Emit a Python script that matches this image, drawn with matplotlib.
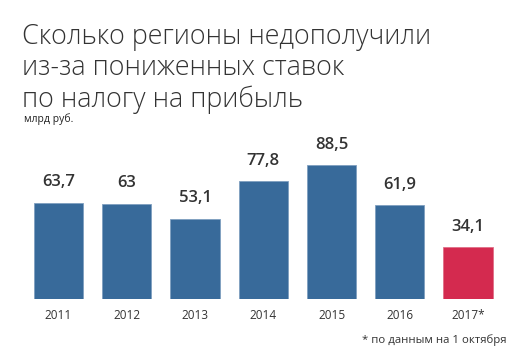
import matplotlib

matplotlib.use("Agg")
import matplotlib.pyplot as plt

years = ["2011", "2012", "2013", "2014", "2015", "2016", "2017*"]
values = [63.7, 63.0, 53.1, 77.8, 88.5, 61.9, 34.1]
labels = ["63,7", "63", "53,1", "77,8", "88,5", "61,9", "34,1"]

BLUE = "#386a9a"
RED = "#d42a4f"
FONT = ["Open Sans", "DejaVu Sans"]

W, H = 527, 354
fig = plt.figure(figsize=(W / 100, H / 100), dpi=100)
fig.patch.set_facecolor("white")

# axes placed in pixel terms: baseline ~299px, 68px per bar slot
ax = fig.add_axes([24.4 / W, (H - 299) / H, 477.8 / W, 169 / H])
colors = [BLUE] * (len(values) - 1) + [RED]
x = range(len(values))
bars = ax.bar(x, values, width=0.72, color=colors, edgecolor="#7f9fc0", linewidth=0.6)
bars[-1].set_edgecolor("#e07088")
ax.set_xlim(-0.5, len(values) - 0.5)
ax.set_ylim(0, 169 / 1.514)
for xi, v, lab in zip(x, values, labels):
    ax.annotate(lab, (xi, v), xytext=(0, 9), textcoords="offset points",
                ha="center", va="bottom", fontsize=12, color="#333333",
                family=FONT, fontweight="semibold")
ax.set_xticks(list(x))
ax.set_xticklabels(years, family=FONT, fontsize=8.5, color="#333333")
ax.tick_params(axis="x", length=0, pad=7)
ax.set_yticks([])
for s in ax.spines.values():
    s.set_visible(False)

title = "Сколько регионы недополучили\nиз-за пониженных ставок\nпо налогу на прибыль"
fig.text(22 / W, 1 - 107 / H, title, ha="left", va="baseline", fontsize=19.4,
         family=FONT, fontweight="light", color="#333333", linespacing=1.16)
fig.text(24 / W, 1 - 122 / H, "млрд руб.", ha="left", va="baseline",
         fontsize=7.5, family=FONT, color="#222222")
fig.text(507 / W, 1 - 343 / H, "* по данным на 1 октября", ha="right",
         va="baseline", fontsize=8.2, family=FONT, color="#333333")

fig.savefig("out.png", dpi=100)
